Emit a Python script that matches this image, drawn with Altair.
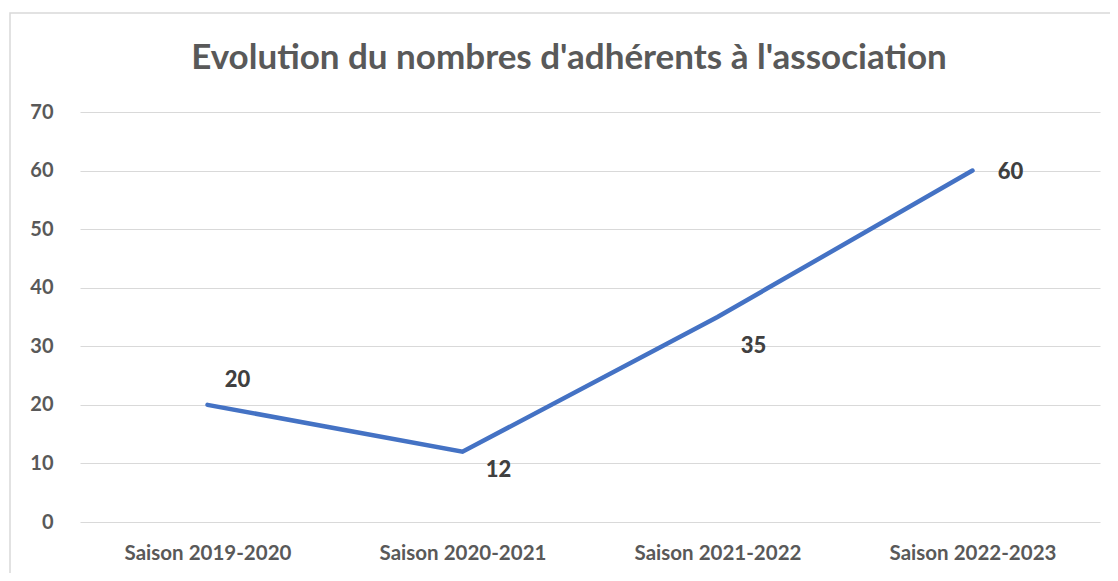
import altair as alt
import pandas as pd

categories = ["Saison 2019-2020", "Saison 2020-2021", "Saison 2021-2022", "Saison 2022-2023"]
values = [20, 12, 35, 60]
y_ticks = [0, 10, 20, 30, 40, 50, 60, 70]
title_text = "Evolution du nombres d'adhérents à l'association"

df = pd.DataFrame({"saison": categories, "adherents": values})

FONT = "Lato"
x_enc = alt.X("saison:N", sort=categories, title=None,
              scale=alt.Scale(paddingInner=0, paddingOuter=0),
              axis=alt.Axis(labelAngle=0, labelFont=FONT, labelFontSize=20.5, labelFontWeight="bold",
                            labelColor="#595959", labelPadding=21, domain=False, ticks=False, grid=False))
y_enc = alt.Y("adherents:Q", title=None,
              scale=alt.Scale(domain=[0, 70], nice=False),
              axis=alt.Axis(values=y_ticks, labelFont=FONT, labelFontSize=20, labelFontWeight="bold",
                            labelColor="#595959", labelPadding=27, domain=False, ticks=False,
                            gridColor="#d9d9d9", gridWidth=1.2))

base = alt.Chart(df)

line = base.mark_line(color="#4472C4", strokeWidth=4.5, strokeCap="round").encode(x=x_enc, y=y_enc)

offsets = {categories[0]: (30, -25), categories[1]: (36, 18), categories[2]: (36, 29), categories[3]: (38, 1)}
labels = []
for cat, (dx, dy) in offsets.items():
    labels.append(
        base.transform_filter(alt.datum.saison == cat)
        .mark_text(font=FONT, fontSize=22, fontWeight=900, color="#404040", dx=dx, dy=dy)
        .encode(x=x_enc, y=y_enc, text="adherents:Q")
    )

frame = alt.Chart(alt.Data(values=[{}])).mark_rect(
    fill=None, stroke="#d9d9d9", strokeWidth=1.5, clip=False
).encode(x=alt.value(-70), x2=alt.value(1100), y=alt.value(-99), y2=alt.value(500))

chart = alt.layer(frame, line, *labels).properties(
    width=1020, height=410,
    title=alt.TitleParams(title_text, font=FONT, fontSize=35, fontWeight="bold", color="#595959",
                          anchor="middle", dx=-21, offset=-64),
    autosize=alt.AutoSizeParams(type="none"),
    padding={"left": 72, "top": 104, "right": 10, "bottom": 51},
).configure(background="white", view=alt.ViewConfig(stroke=None))

chart.save("out.html", embed_options={"renderer": "svg", "actions": False})
